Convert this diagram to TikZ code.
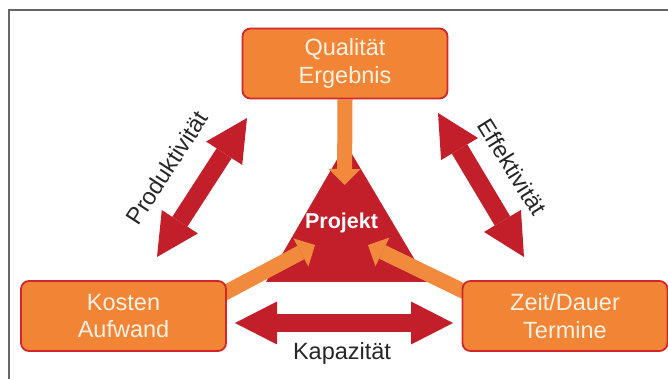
\documentclass[tikz,border=0pt]{standalone}
\usepackage{fontspec}
\setmainfont{Liberation Sans}
\usetikzlibrary{arrows.meta,backgrounds}

\definecolor{projred}{HTML}{C21F2B}
\definecolor{boxred}{HTML}{D3262B}
\definecolor{boxorange}{HTML}{F28535}
\definecolor{arroworange}{HTML}{F18A3D}
\definecolor{boxtext}{HTML}{FDF1E4}

\begin{document}
\begin{tikzpicture}[x=1pt,y=1pt,
    box/.style={draw=boxred, line width=1.8pt, fill=boxorange, rounded corners=8pt,
        text=boxtext, align=center, inner sep=0pt,
        minimum width=205pt, minimum height=70pt,
        font=\fontsize{23.5}{27.5}\selectfont},
    fatred/.style={draw=projred, line width=18pt,
        {Triangle[width=43pt,length=42pt,line width=0pt]}-{Triangle[width=43pt,length=42pt,line width=0pt]}},
    fatorange/.style={draw=arroworange, line width=15pt,
        -{Triangle[width=32pt,length=16pt,line width=0pt]}},
    lbl/.style={font=\fontsize{23.5}{27.5}\selectfont, text=black!85}]
    \useasboundingbox (0,0) rectangle (668,379);
    % Frame lines
    \draw[black!60,line width=1.5pt] (668,369) -- (9,369) -- (9,0);

    % Boxes
    \node[box] (qual) at (345,315.5) {Qualität\\Ergebnis};
    \node[box] (kost) at (123.5,63) {Kosten\\Aufwand};
    \node[box] (zeit) at (565,63) {Zeit/Dauer\\Termine};

    % Arrow ends
    \coordinate (tipT) at (344.5,194);
    \coordinate (tipL) at (315,134);
    \coordinate (tipR) at (368,134);
    \coordinate (prodA) at (157,122);
    \coordinate (prodB) at (247,261);
    \coordinate (effA) at (438,266);
    \coordinate (effB) at (524,122);
    \coordinate (kapA) at (235,56);
    \coordinate (kapB) at (453,56);

    \begin{scope}[on background layer]
        % Triangle
        \fill[projred] (346,235) -- (428,97) -- (266,97) -- cycle;
        % Double arrows
        \draw[fatred] (prodA) -- (prodB);
        \draw[fatred] (effA) -- (effB);
        \draw[fatred] (kapA) -- (kapB);
        % Arrows into the project
        \draw[fatorange] (qual.south) -- (tipT);
        \draw[fatorange] ([shift={(-10,-17)}]kost.north east) -- (tipL);
        \draw[fatorange] ([shift={(12,-16)}]zeit.north west) -- (tipR);
    \end{scope}

    % Labels
    \node[font=\bfseries\fontsize{21.5}{25}\selectfont, text=white] (proj) at (341.5,156) {Projekt};
    \node[lbl, rotate=57] (prod) at (167,211) {Produktivität};
    \node[lbl, rotate=-58] (eff) at (512,212) {Effektivität};
    \node[lbl] (kap) at (342,26) {Kapazität};
\end{tikzpicture}
\end{document}
